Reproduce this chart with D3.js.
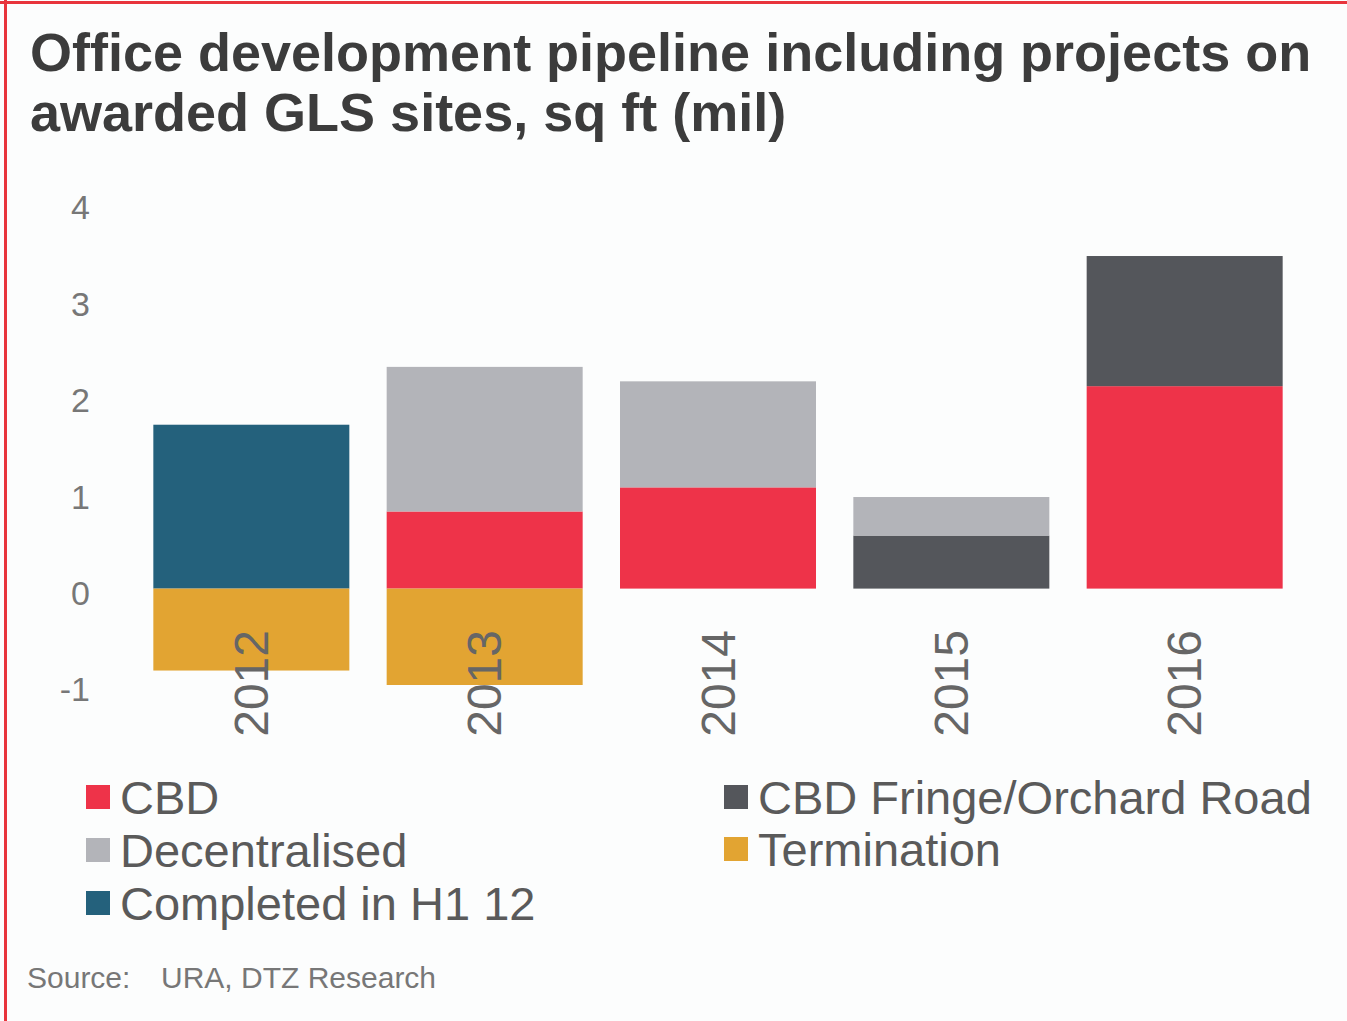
<!DOCTYPE html>
<html>
<head>
<meta charset="utf-8">
<script src="https://cdn.jsdelivr.net/npm/d3@7"></script>
<style>
  html, body { margin: 0; padding: 0; background: #fcfdfd; }
  svg { display: block; }
  text { font-family: "Liberation Sans", Arial, sans-serif; }
</style>
</head>
<body>
<svg id="chart" width="1347" height="1021"></svg>
<script>
// Office pipeline, sq ft (mil), by year of completion
const years = ["2012", "2013", "2014", "2015", "2016"];
const completedH112 = [1.7, 0, 0, 0, 0];
const cbd = [0, 0.8, 1.05, 0, 2.1];
const cbdFringe = [0, 0, 0, 0.55, 1.35];
const decentralised = [0, 1.5, 1.1, 0.4, 0];
const termination = [-0.85, -1.0, 0, 0, 0];
const yTicks = [-1, 0, 1, 2, 3, 4];

const seriesNames = ["Completed in H1 12", "CBD", "CBD Fringe/Orchard Road", "Decentralised", "Termination"];
const seriesValues = [completedH112, cbd, cbdFringe, decentralised, termination];
const colors = {
  "CBD": "#ee3349",
  "Decentralised": "#b3b4b9",
  "Completed in H1 12": "#24617c",
  "CBD Fringe/Orchard Road": "#54565b",
  "Termination": "#e2a432"
};

const svg = d3.select("#chart");

// frame lines on the top and left edges
svg.append("line").attr("x1", 0).attr("x2", 1347).attr("y1", 2.5).attr("y2", 2.5)
  .attr("stroke", "#e8343c").attr("stroke-width", 3);
svg.append("line").attr("x1", 5.5).attr("x2", 5.5).attr("y1", 0).attr("y2", 1021)
  .attr("stroke", "#e8343c").attr("stroke-width", 3);

// title
const title = svg.append("text").attr("x", 30).attr("fill", "#3c3c3c")
  .attr("font-weight", "bold").attr("font-size", 54);
title.append("tspan").attr("x", 30).attr("y", 71).text("Office development pipeline including projects on");
title.append("tspan").attr("x", 30).attr("y", 131).text("awarded GLS sites, sq ft (mil)");

// scales
const x = d3.scaleBand().domain(years).range([130, 1306]).paddingInner(0.16).paddingOuter(0.1);
const y = d3.scaleLinear().domain([-1, 4]).range([685, 203]);

// build stacked rows: positives stack upward, negatives downward
const rows = years.map((yr, i) => {
  const r = { year: yr };
  seriesNames.forEach((s, k) => { r[s] = seriesValues[k][i]; });
  return r;
});
const stacked = d3.stack().keys(seriesNames).offset(d3.stackOffsetDiverging)(rows);

svg.append("g").selectAll("g").data(stacked).join("g")
  .attr("fill", d => colors[d.key])
  .selectAll("rect").data(d => d.filter(p => p[1] - p[0] !== 0)).join("rect")
  .attr("x", d => x(d.data.year))
  .attr("width", x.bandwidth())
  .attr("y", d => y(Math.max(d[0], d[1])))
  .attr("height", d => Math.abs(y(d[0]) - y(d[1])));

// y axis labels
const yAxis = d3.axisLeft(y).tickValues(yTicks).tickSize(0).tickPadding(0).tickFormat(d => String(d));
const yg = svg.append("g").attr("transform", "translate(90,5)").call(yAxis);
yg.select(".domain").remove();
yg.selectAll("text").attr("font-size", 34).attr("fill", "#777")
  .attr("font-family", "Liberation Sans, Arial, sans-serif");

// x axis labels, rotated
svg.append("g").selectAll("text").data(years).join("text")
  .attr("transform", d => `translate(${x(d) + x.bandwidth() / 2},630) rotate(-90)`)
  .attr("text-anchor", "end")
  .attr("dy", "0.35em")
  .attr("font-size", 48)
  .attr("fill", "#666")
  .text(d => d);

// legend
const legendItems = [
  { name: "CBD", x: 86, y: 797 },
  { name: "Decentralised", x: 86, y: 850 },
  { name: "Completed in H1 12", x: 86, y: 903 },
  { name: "CBD Fringe/Orchard Road", x: 724, y: 797 },
  { name: "Termination", x: 724, y: 849 }
];
const lg = svg.append("g").selectAll("g").data(legendItems).join("g")
  .attr("transform", d => `translate(${d.x},${d.y})`);
lg.append("rect").attr("x", 0).attr("y", -12).attr("width", 24).attr("height", 24)
  .attr("fill", d => colors[d.name]);
lg.append("text").attr("x", 34).attr("dy", "0.36em").attr("font-size", 47)
  .attr("fill", "#5a5a5a").text(d => d.name);

// source
svg.append("text").attr("x", 27).attr("y", 988).attr("font-size", 30).attr("fill", "#777").text("Source:");
svg.append("text").attr("x", 161).attr("y", 988).attr("font-size", 30).attr("fill", "#777").text("URA, DTZ Research");
</script>
</body>
</html>
